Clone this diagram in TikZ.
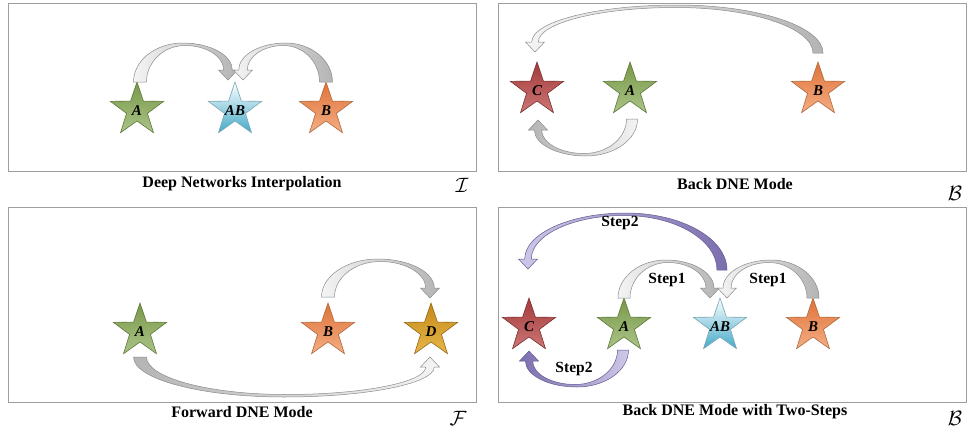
\documentclass[tikz,border=0pt]{standalone}
\usepackage{fontspec}
\setmainfont{Liberation Serif}
\usetikzlibrary{shapes.geometric,calc}
\definecolor{arrlight}{HTML}{F4F4F4}
\definecolor{arrdark}{HTML}{B4B4B4}
\definecolor{arredge}{HTML}{8C8C8C}
\definecolor{purlight}{HTML}{CFC8E8}
\definecolor{purdark}{HTML}{7C6EAE}
\definecolor{puredge}{HTML}{655A94}
\definecolor{gAt}{HTML}{789848}
\definecolor{gAb}{HTML}{AAC488}
\definecolor{gAe}{HTML}{5E7838}
\definecolor{oBt}{HTML}{DE7238}
\definecolor{oBb}{HTML}{F4AE84}
\definecolor{oBe}{HTML}{B06A3C}
\definecolor{rCt}{HTML}{A43A3A}
\definecolor{rCb}{HTML}{CC7676}
\definecolor{rCe}{HTML}{7C3030}
\definecolor{yDt}{HTML}{C48A1A}
\definecolor{yDb}{HTML}{E8B64A}
\definecolor{yDe}{HTML}{946814}
\definecolor{bABb}{HTML}{44AACA}
\definecolor{bABe}{HTML}{78A6B6}
% #1 style, #2 tail base, #3 head tip, #4 direction (+1 arch above, -1 arch below),
% #5 arch height above tail, #6 band width at tail
\newcommand{\blockarrow}[6]{%
  \path[#1] let \p1=(#2), \p2=(#3),
    \n1={sign(\x2-\x1)},
    \n2={\y2+(#4)*10},
    \n3={\y1+(#4)*(#5)},
    \n4={\n3-(#4)*2.5},
    \n6={(#6)/2},
    \n7={(#6)*0.33},
    \n8={9.5},
    \p3=({\x1-\n1*\n6},\y1),
    \p4=({\x2+\n1*\n7},{\n2*1pt}),
    \p5=({(\x3+\x4)/2},{\n3*1pt}),
    \p6=({\x1+\n1*\n6},\y1),
    \p7=({\x2-\n1*\n7},{\n2*1pt}),
    \p8=({(\x6+\x7)/2},{\n4*1pt})
  in (\p3)
     .. controls (\x3,{\y3+0.5523*(\y5-\y3)}) and ({\x5+0.5523*(\x3-\x5)},\y5) .. (\p5)
     .. controls ({\x5+0.5523*(\x4-\x5)},\y5) and (\x4,{\y4+0.5523*(\y5-\y4)}) .. (\p4)
     -- ({\x2+\n1*\n8},{\n2*1pt}) -- (\x2,\y2) -- ({\x2-\n1*\n8},{\n2*1pt}) -- (\p7)
     .. controls (\x7,{\y7+0.5523*(\y8-\y7)}) and ({\x8+0.5523*(\x7-\x8)},\y8) .. (\p8)
     .. controls ({\x8+0.5523*(\x6-\x8)},\y8) and (\x6,{\y6+0.5523*(\y8-\y6)}) .. (\p6)
     -- cycle;%
}
\begin{document}
\begin{tikzpicture}[x=1pt,y=-1pt,
  panel/.style={draw=black!38, line width=0.8pt},
  caption/.style={font=\fontsize{16}{18}\selectfont\bfseries, inner sep=0pt},
  scriptlbl/.style={font=\fontsize{22}{22}\selectfont, inner sep=0pt},
  steplbl/.style={font=\fontsize{15.5}{17}\selectfont\bfseries, inner sep=0pt},
  starnode/.style={star, star points=5, star point ratio=2.55, minimum size=56pt,
    inner sep=0pt, line width=0.6pt,
    label={[font=\fontsize{15}{15}\selectfont\bfseries\itshape, inner sep=0pt, yshift=-1pt]center:#1}},
  stA/.style={starnode=#1, top color=gAt, bottom color=gAb, draw=gAe},
  stAB/.style={starnode=#1, top color=white, bottom color=bABb, draw=bABe},
  stB/.style={starnode=#1, top color=oBt, bottom color=oBb, draw=oBe},
  stC/.style={starnode=#1, top color=rCt, bottom color=rCb, draw=rCe},
  stD/.style={starnode=#1, top color=yDt, bottom color=yDb, draw=yDe},
  grayup/.style={left color=arrlight, right color=arrdark, draw=arredge, line width=0.5pt},
  graydown/.style={left color=arrdark, right color=arrlight, draw=arredge, line width=0.5pt},
  purup/.style={left color=purlight, right color=purdark, draw=puredge, line width=0.5pt},
  purdown/.style={left color=purdark, right color=purlight, draw=puredge, line width=0.5pt}
]
\useasboundingbox (0,0) rectangle (967,434);
\fill[white] (0,0) rectangle (967,434);

% panel frames
\draw[panel] (8,3) rectangle (476,171);
\draw[panel] (498,3) rectangle (966,171);
\draw[panel] (8,207) rectangle (476,402);
\draw[panel] (498,207) rectangle (966,402);

% captions
\node[caption] (cap1) at (242,184) {Deep Networks Interpolation};
\node[caption] (cap2) at (735,184) {Back DNE Mode};
\node[caption] (cap3) at (242,412) {Forward DNE Mode};
\node[caption] (cap4) at (735,412) {Back DNE Mode with Two-Steps};
\node[scriptlbl] (s1) at (462,185) {$\mathcal{I}$};
\node[scriptlbl] (s2) at (955,193) {$\mathcal{B}$};
\node[scriptlbl] (s3) at (458,418) {$\mathcal{F}$};
\node[scriptlbl] (s4) at (955,418) {$\mathcal{B}$};

% panel 1
\node[stA=A]   (a1)  at (137,110) {};
\node[stAB=AB] (ab1) at (235,110) {};
\node[stB=B]   (b1)  at (326,110) {};
\blockarrow{grayup}{$(a1.center)+(3,-28)$}{$(ab1.center)+(-7,-30)$}{1}{39}{13}
\blockarrow{grayup}{$(b1.center)+(0,-28)$}{$(ab1.center)+(8,-30)$}{1}{39}{13}

% panel 2
\node[stC=C] (c2) at (537,90) {};
\node[stA=A] (a2) at (630,90) {};
\node[stB=B] (b2) at (818,90) {};
\blockarrow{grayup}{$(b2.center)+(0,-37)$}{$(c2.center)+(-2,-38)$}{1}{48}{10}
\blockarrow{graydown}{$(a2.center)+(2,29)$}{$(c2.center)+(1,30)$}{-1}{37}{11}

% panel 3
\node[stA=A] (a3) at (140,331) {};
\node[stB=B] (b3) at (328,331) {};
\node[stD=D] (d3) at (431,331) {};
\blockarrow{grayup}{$(b3.center)+(0,-34)$}{$(d3.center)+(-1,-33)$}{1}{38}{13}
\blockarrow{graydown}{$(a3.center)+(0,26)$}{$(d3.center)+(-1,26)$}{-1}{40}{13}

% panel 4
\node[stC=C]   (c4)  at (529,326) {};
\node[stA=A]   (a4)  at (624,326) {};
\node[stAB=AB] (ab4) at (720,326) {};
\node[stB=B]   (b4)  at (813,326) {};
\blockarrow{grayup}{$(a4.center)+(0,-28)$}{$(ab4.center)+(-10,-28)$}{1}{38}{12}
\blockarrow{grayup}{$(b4.center)+(0,-28)$}{$(ab4.center)+(7,-28)$}{1}{38}{12}
\blockarrow{purup}{$(ab4.center)+(2,-56)$}{$(c4.center)+(-1,-57)$}{1}{57}{10}
\blockarrow{purdown}{$(a4.center)+(-1,24)$}{$(c4.center)+(0,25)$}{-1}{37}{11}
\node[steplbl] (l1) at (620,223) {Step2};
\node[steplbl] (l2) at (667,280) {Step1};
\node[steplbl] (l3) at (768,280) {Step1};
\node[steplbl] (l4) at (574,369) {Step2};
\end{tikzpicture}
\end{document}
